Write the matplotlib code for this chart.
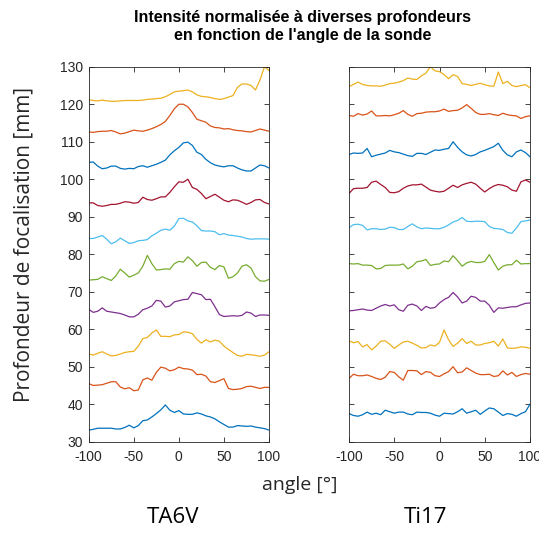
import numpy as np
import matplotlib.pyplot as plt

plt.rcParams['axes.unicode_minus'] = False

# angle grid shared by every curve (deg)
angle = np.arange(-100, 101, 5)

# TA6V curves, bottom to top
ta6v_1 = [33.1, 33.3, 33.6, 33.6, 33.6, 33.6, 33.4, 33.4, 33.8, 34.4, 33.7, 34.3, 35.6, 35.8, 36.6, 37.5, 38.5, 39.8, 38.4, 37.8, 38.3,
          37.4, 37.3, 37.3, 37.7, 37.4, 36.9, 36.6, 36.1, 35.3, 34.6, 33.9, 33.9, 34.3, 34.2, 34.1, 34.2, 33.9, 33.7, 33.5, 33.1]
ta6v_2 = [45.5, 45.0, 45.1, 45.2, 45.6, 46.0, 46.0, 44.6, 44.1, 44.4, 43.6, 43.8, 46.5, 47.0, 46.4, 48.5, 49.9, 49.6, 48.9, 49.2, 49.9,
          49.5, 49.4, 49.1, 47.9, 48.0, 47.5, 46.0, 45.8, 46.3, 46.8, 44.2, 43.9, 44.0, 44.2, 44.7, 44.8, 44.5, 44.2, 44.5, 44.5]
ta6v_3 = [53.4, 53.1, 53.6, 54.0, 53.4, 52.9, 53.0, 53.4, 53.8, 54.0, 54.1, 55.5, 57.5, 57.8, 59.0, 59.8, 58.1, 58.1, 58.0, 58.5, 58.6,
          59.3, 59.2, 58.8, 57.3, 56.3, 57.2, 56.6, 57.1, 56.8, 55.5, 54.6, 53.8, 53.0, 52.8, 53.3, 53.2, 53.0, 52.8, 53.1, 54.0]
ta6v_4 = [65.3, 64.5, 64.8, 65.7, 64.8, 64.6, 64.4, 64.2, 63.8, 63.3, 63.3, 64.0, 65.2, 65.6, 66.2, 67.7, 67.5, 65.9, 66.2, 67.3, 67.6,
          67.9, 68.0, 69.8, 69.5, 69.2, 67.9, 68.0, 66.0, 63.9, 63.4, 63.5, 63.6, 63.5, 63.7, 64.6, 64.3, 63.4, 63.8, 63.8, 63.7]
ta6v_5 = [73.1, 73.2, 73.3, 74.0, 73.5, 73.0, 74.2, 76.0, 75.0, 73.9, 74.4, 75.0, 76.8, 79.7, 77.5, 75.8, 75.9, 76.1, 76.0, 77.5, 78.1,
          77.9, 79.3, 78.3, 76.8, 77.8, 77.9, 76.5, 75.9, 77.0, 76.6, 73.6, 74.0, 75.0, 76.8, 77.2, 76.3, 74.0, 72.9, 72.8, 73.3]
ta6v_6 = [84.2, 84.2, 84.6, 85.0, 84.0, 82.8, 83.3, 84.3, 83.6, 82.9, 83.1, 83.6, 83.7, 83.9, 84.9, 85.6, 86.4, 86.7, 86.4, 87.5, 89.5,
          89.6, 88.9, 88.6, 87.6, 86.3, 86.2, 86.2, 86.0, 85.2, 85.5, 85.1, 85.0, 84.8, 84.6, 84.2, 84.0, 84.1, 84.1, 84.1, 84.0]
ta6v_7 = [93.7, 93.7, 93.0, 92.8, 93.0, 93.3, 93.3, 93.6, 94.0, 93.9, 93.6, 93.8, 95.2, 94.6, 94.4, 94.8, 95.3, 95.3, 96.5, 98.0, 99.3,
          99.2, 100.0, 97.8, 97.3, 96.2, 94.8, 95.4, 96.0, 95.2, 94.4, 94.0, 94.5, 94.4, 93.9, 93.3, 93.8, 94.5, 94.6, 93.8, 93.4]
ta6v_8 = [104.5, 104.6, 103.5, 102.8, 103.0, 103.5, 103.5, 102.9, 102.7, 102.9, 102.8, 103.4, 103.6, 103.2, 103.6, 104.0, 104.5, 105.1,
          106.5, 107.6, 108.5, 109.7, 109.9, 109.0, 107.2, 106.6, 105.3, 104.4, 103.8, 103.5, 103.3, 103.6, 103.6, 103.0, 102.5, 102.2,
          102.2, 103.0, 103.8, 103.6, 103.0]
ta6v_9 = [112.6, 112.5, 112.7, 112.8, 112.8, 113.0, 112.6, 112.1, 112.3, 112.7, 113.1, 112.9, 112.8, 113.1, 113.5, 114.0, 114.6, 115.4,
          117.0, 118.8, 120.0, 120.0, 119.3, 117.8, 116.0, 115.6, 115.2, 114.2, 113.8, 113.7, 113.4, 113.5, 113.2, 113.0, 112.9, 112.7,
          112.6, 113.0, 113.4, 113.1, 112.8]
ta6v_10 = [121.2, 121.0, 120.9, 121.1, 120.9, 120.8, 120.8, 120.9, 121.0, 121.0, 121.0, 121.0, 121.1, 121.3, 121.4, 121.5, 121.6, 122.0,
           122.6, 123.3, 123.5, 123.6, 123.8, 123.3, 122.5, 122.1, 122.0, 121.8, 121.5, 121.3, 121.5, 121.9, 122.3, 124.5, 125.4, 125.4,
           125.0, 123.8, 126.5, 130.0, 129.0]

# Ti17 curves, bottom to top
ti17_1 = [37.5, 37.0, 36.8, 37.2, 37.9, 37.3, 37.6, 37.2, 38.4, 38.0, 37.6, 37.9, 37.9, 37.4, 37.2, 37.9, 37.8, 37.8, 37.6, 37.1, 36.8,
          37.6, 37.5, 37.4, 38.0, 38.8, 37.6, 38.0, 38.4, 37.3, 38.2, 39.0, 38.8, 37.9, 37.0, 37.5, 37.3, 36.8, 37.5, 38.0, 40.0]
ti17_2 = [46.9, 48.0, 47.6, 47.6, 47.8, 47.4, 46.9, 46.6, 47.2, 48.7, 48.5, 47.3, 46.4, 49.0, 49.0, 48.9, 47.9, 48.7, 48.5, 47.6, 47.4,
          48.1, 48.7, 50.0, 48.4, 48.6, 49.7, 49.0, 48.3, 47.9, 47.9, 48.0, 47.4, 47.6, 48.9, 47.8, 48.5, 47.4, 47.9, 48.2, 48.0]
ti17_3 = [56.9, 56.4, 56.7, 55.3, 55.9, 54.5, 55.5, 56.8, 56.9, 56.0, 54.9, 55.8, 56.6, 56.8, 56.3, 55.7, 55.0, 55.1, 55.8, 55.5, 56.5,
          59.8, 57.2, 55.4, 56.3, 57.5, 56.2, 56.8, 55.8, 55.8, 56.2, 56.4, 56.8, 55.5, 57.4, 55.0, 54.9, 55.0, 55.3, 55.2, 54.9]
ti17_4 = [64.9, 65.0, 65.2, 65.4, 65.1, 65.0, 65.6, 66.2, 66.6, 66.2, 66.5, 65.2, 64.8, 66.4, 66.7, 66.2, 65.0, 66.1, 65.6, 65.8, 67.0,
          67.9, 68.5, 69.8, 68.6, 67.0, 67.5, 68.8, 68.5, 67.5, 67.5, 66.4, 64.5, 65.7, 65.6, 65.8, 66.0, 66.0, 66.5, 66.9, 67.0]
ti17_5 = [77.5, 77.4, 77.5, 77.1, 77.1, 77.0, 76.1, 76.2, 77.0, 77.1, 77.1, 77.1, 77.4, 76.1, 76.8, 78.0, 78.2, 78.6, 77.0, 77.3, 77.4,
          78.2, 78.0, 79.6, 78.3, 76.8, 77.7, 78.1, 77.8, 77.8, 78.1, 79.9, 77.8, 75.8, 76.8, 77.2, 77.2, 78.4, 77.4, 77.5, 77.5]
ti17_6 = [87.1, 87.9, 88.0, 87.7, 86.5, 86.8, 86.8, 86.6, 86.7, 87.2, 87.1, 86.6, 86.6, 87.4, 88.1, 87.3, 86.8, 87.0, 86.9, 86.8, 86.8,
          87.2, 87.8, 88.6, 89.0, 89.8, 88.8, 88.7, 88.8, 88.8, 88.7, 87.4, 86.9, 86.8, 86.6, 85.8, 85.6, 87.0, 88.7, 88.9, 89.1]
ti17_7 = [96.2, 97.5, 97.6, 97.6, 97.8, 99.2, 99.5, 98.6, 97.8, 96.5, 96.4, 96.7, 97.6, 98.2, 98.5, 98.5, 98.7, 97.9, 97.1, 96.8, 96.6,
          96.8, 97.6, 98.4, 97.8, 98.5, 98.9, 99.2, 98.7, 97.6, 96.6, 97.5, 98.2, 98.6, 98.4, 98.0, 97.1, 96.8, 99.3, 99.8, 99.2]
ti17_8 = [106.6, 107.0, 106.9, 107.0, 108.2, 106.0, 106.4, 106.7, 107.0, 107.7, 107.3, 107.1, 106.7, 106.3, 106.1, 106.9, 106.9, 106.6,
          107.2, 107.8, 107.7, 108.0, 108.2, 110.0, 108.5, 107.3, 106.5, 106.2, 106.6, 107.3, 107.7, 108.2, 108.7, 109.6, 107.7, 106.5,
          106.0, 107.3, 107.8, 107.1, 106.0]
ti17_9 = [117.0, 116.8, 117.5, 117.1, 117.4, 118.2, 116.9, 116.9, 117.0, 116.9, 117.2, 117.6, 118.3, 117.3, 116.8, 117.5, 117.6, 117.9,
          118.0, 118.0, 118.2, 118.7, 118.1, 118.3, 118.4, 119.0, 119.9, 118.9, 117.8, 117.3, 117.3, 117.5, 117.2, 117.0, 117.6, 117.2,
          117.0, 116.9, 116.2, 116.7, 116.9]
ti17_10 = [124.7, 125.3, 125.9, 125.3, 125.0, 124.9, 124.9, 124.8, 125.1, 125.5, 125.6, 125.9, 126.3, 127.0, 126.7, 126.6, 127.6, 128.3,
           130.0, 128.9, 128.7, 127.9, 126.8, 127.9, 127.4, 125.5, 125.3, 125.0, 125.3, 125.6, 125.2, 124.9, 124.8, 128.6, 125.5, 126.1,
           125.0, 124.7, 125.0, 125.2, 124.4]

ta6v_curves = [ta6v_1, ta6v_2, ta6v_3, ta6v_4, ta6v_5, ta6v_6, ta6v_7, ta6v_8, ta6v_9, ta6v_10]
ti17_curves = [ti17_1, ti17_2, ti17_3, ti17_4, ti17_5, ti17_6, ti17_7, ti17_8, ti17_9, ti17_10]

# MATLAB default colour order
colors = ['#0072BD', '#D95319', '#EDB120', '#7E2F8E', '#77AC30', '#4DBEEE', '#A2142F']

fig = plt.figure(figsize=(5.39, 5.34), dpi=100)
ax1 = fig.add_axes([0.1646, 0.1728, 0.3345, 0.7022])
ax2 = fig.add_axes([0.6475, 0.1728, 0.3358, 0.7022])

for ax, curves in [(ax1, ta6v_curves), (ax2, ti17_curves)]:
    for i, c in enumerate(curves):
        ax.plot(angle, c, color=colors[i % len(colors)], lw=0.9)
    ax.set_xlim(-100, 100)
    ax.set_ylim(30, 130)
    ax.set_xticks([-100, -50, 0, 50, 100])
    ax.set_yticks(np.arange(30, 131, 10))
    ax.tick_params(direction='in', top=True, right=True, length=3.5, width=0.6,
                   labelsize=10, colors='#262626')
    ax.tick_params(axis='x', pad=6)
    ax.tick_params(axis='y', pad=4)
    for lab in ax.get_xticklabels() + ax.get_yticklabels():
        lab.set_family('Liberation Sans')
    for s in ax.spines.values():
        s.set_color('#262626')
        s.set_linewidth(0.6)

ax2.set_yticklabels([])

fig.text(0.562, 0.982, "Intensité normalisée à diverses profondeurs\nen fonction de l'angle de la sonde",
         ha='center', va='top', fontsize=11.5, fontweight='bold', family='Liberation Sans', linespacing=1.3)
fig.text(0.045, 0.543, 'Profondeur de focalisation [mm]', rotation=90, ha='center', va='center',
         fontsize=15, family='Open Sans', color='#262626')
fig.text(0.557, 0.092, 'angle [°]', ha='center', va='center', fontsize=14, family='Open Sans', color='#262626')
fig.text(0.321, 0.030, 'TA6V', ha='center', va='center', fontsize=16, family='Open Sans')
fig.text(0.789, 0.030, 'Ti17', ha='center', va='center', fontsize=16, family='Open Sans')

fig.savefig('out.png', dpi=100)
